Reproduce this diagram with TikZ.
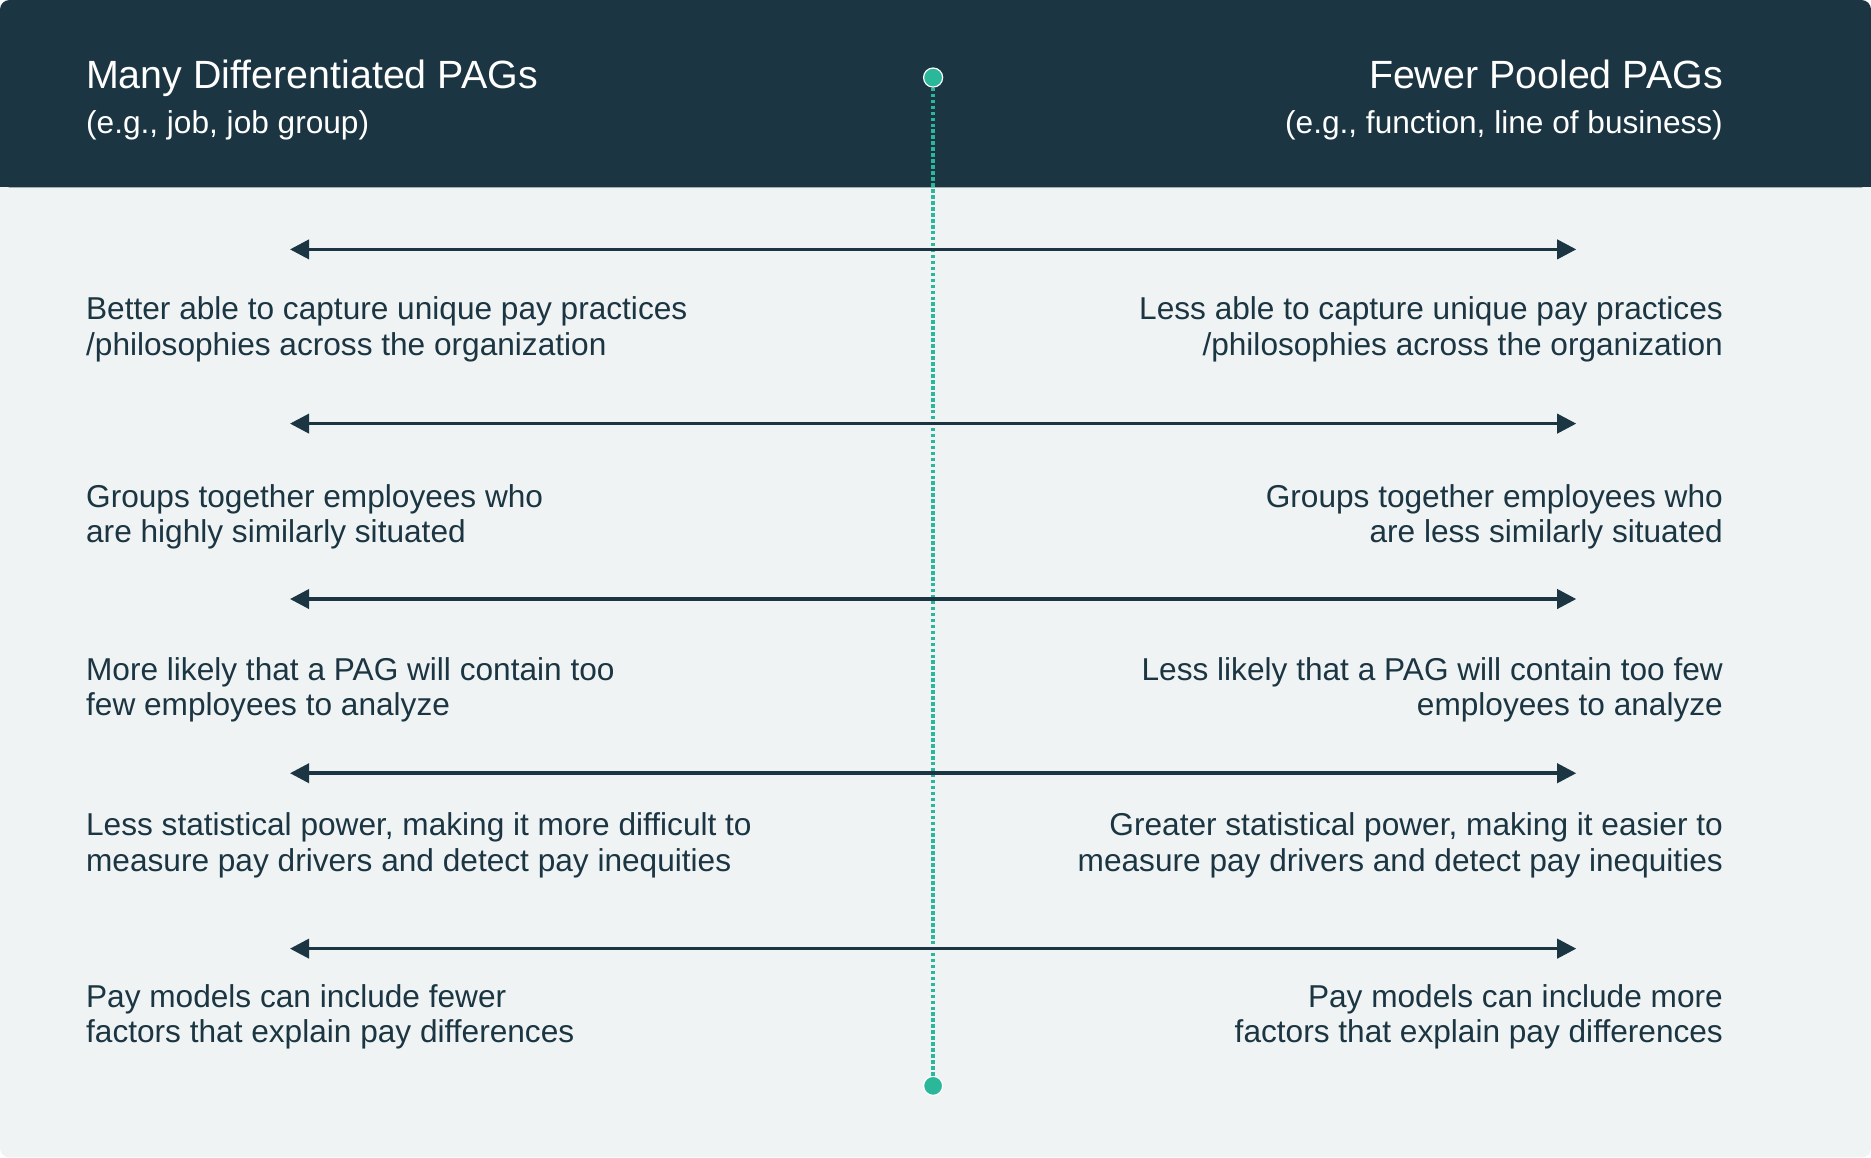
\documentclass[tikz,border=0pt]{standalone}
\usepackage{fontspec}
\setmainfont{Liberation Sans}
\usetikzlibrary{arrows.meta}
\definecolor{navy}{HTML}{1B3542}
\definecolor{paper}{HTML}{EFF3F3}
\definecolor{teal}{HTML}{2BB89A}
\tikzset{
  lefttext/.style={anchor=north west,align=left,text=navy,inner sep=0pt,font=\fontsize{26.5}{30}\selectfont},
  righttext/.style={anchor=north east,align=right,text=navy,inner sep=0pt,font=\fontsize{26.5}{30}\selectfont},
  twoway/.style={navy,line width=3pt,{Triangle[length=16pt,width=16pt]}-{Triangle[length=16pt,width=16pt]}},
  tealdot/.style={circle,fill=teal,draw=white,line width=1pt,minimum size=16pt,inner sep=0pt}
}
\begin{document}
\begin{tikzpicture}[x=1pt,y=-1pt]
  \useasboundingbox (0,0) rectangle (1568,970);
  \fill[paper,rounded corners=8pt] (0,0) rectangle (1568,970);
  \fill[navy,rounded corners=8pt] (0,0) rectangle (1568,157);
  \fill[navy] (0,100) rectangle (1568,157);
  % header
  \node[lefttext,anchor=base west,text=white,font=\fontsize{33}{36}\selectfont] (lhead) at (72,74) {Many Differentiated PAGs};
  \node[lefttext,anchor=base west,text=white] (lsub) at (72,112) {(e.g., job, job group)};
  \node[righttext,anchor=base east,text=white,font=\fontsize{33}{36}\selectfont] (rhead) at (1444,74) {Fewer Pooled PAGs};
  \node[righttext,anchor=base east,text=white] (rsub) at (1444,112) {(e.g., function, line of business)};
  % axis
  \node[tealdot] (top) at (782,65) {};
  \node[tealdot] (bottom) at (782,910) {};
  \draw[teal,line width=3pt,dotted] (top) -- (bottom);
  % rows
  \foreach \y/\d/\l/\r in {
    209/89/{Better able to capture unique pay practices\\/philosophies across the organization}/{Less able to capture unique pay practices\\/philosophies across the organization},
    355/100/{Groups together employees who\\are highly similarly situated}/{Groups together employees who\\are less similarly situated},
    502/98/{More likely that a PAG will contain too\\few employees to analyze}/{Less likely that a PAG will contain too few\\employees to analyze},
    648/82/{Less statistical power, making it more difficult to\\measure pay drivers and detect pay inequities}/{Greater statistical power, making it easier to\\measure pay drivers and detect pay inequities},
    795/79/{Pay models can include fewer\\factors that explain pay differences}/{Pay models can include more\\factors that explain pay differences}}{
    \coordinate (a\y) at (243,\y);
    \coordinate (b\y) at (1321,\y);
    \draw[twoway] (a\y) -- (b\y);
    \node[lefttext,anchor=base west] (l\y) at (72,\y+\d) {\l};
    \node[righttext,anchor=base east] (r\y) at (1444,\y+\d) {\r};
  }
\end{tikzpicture}
\end{document}
